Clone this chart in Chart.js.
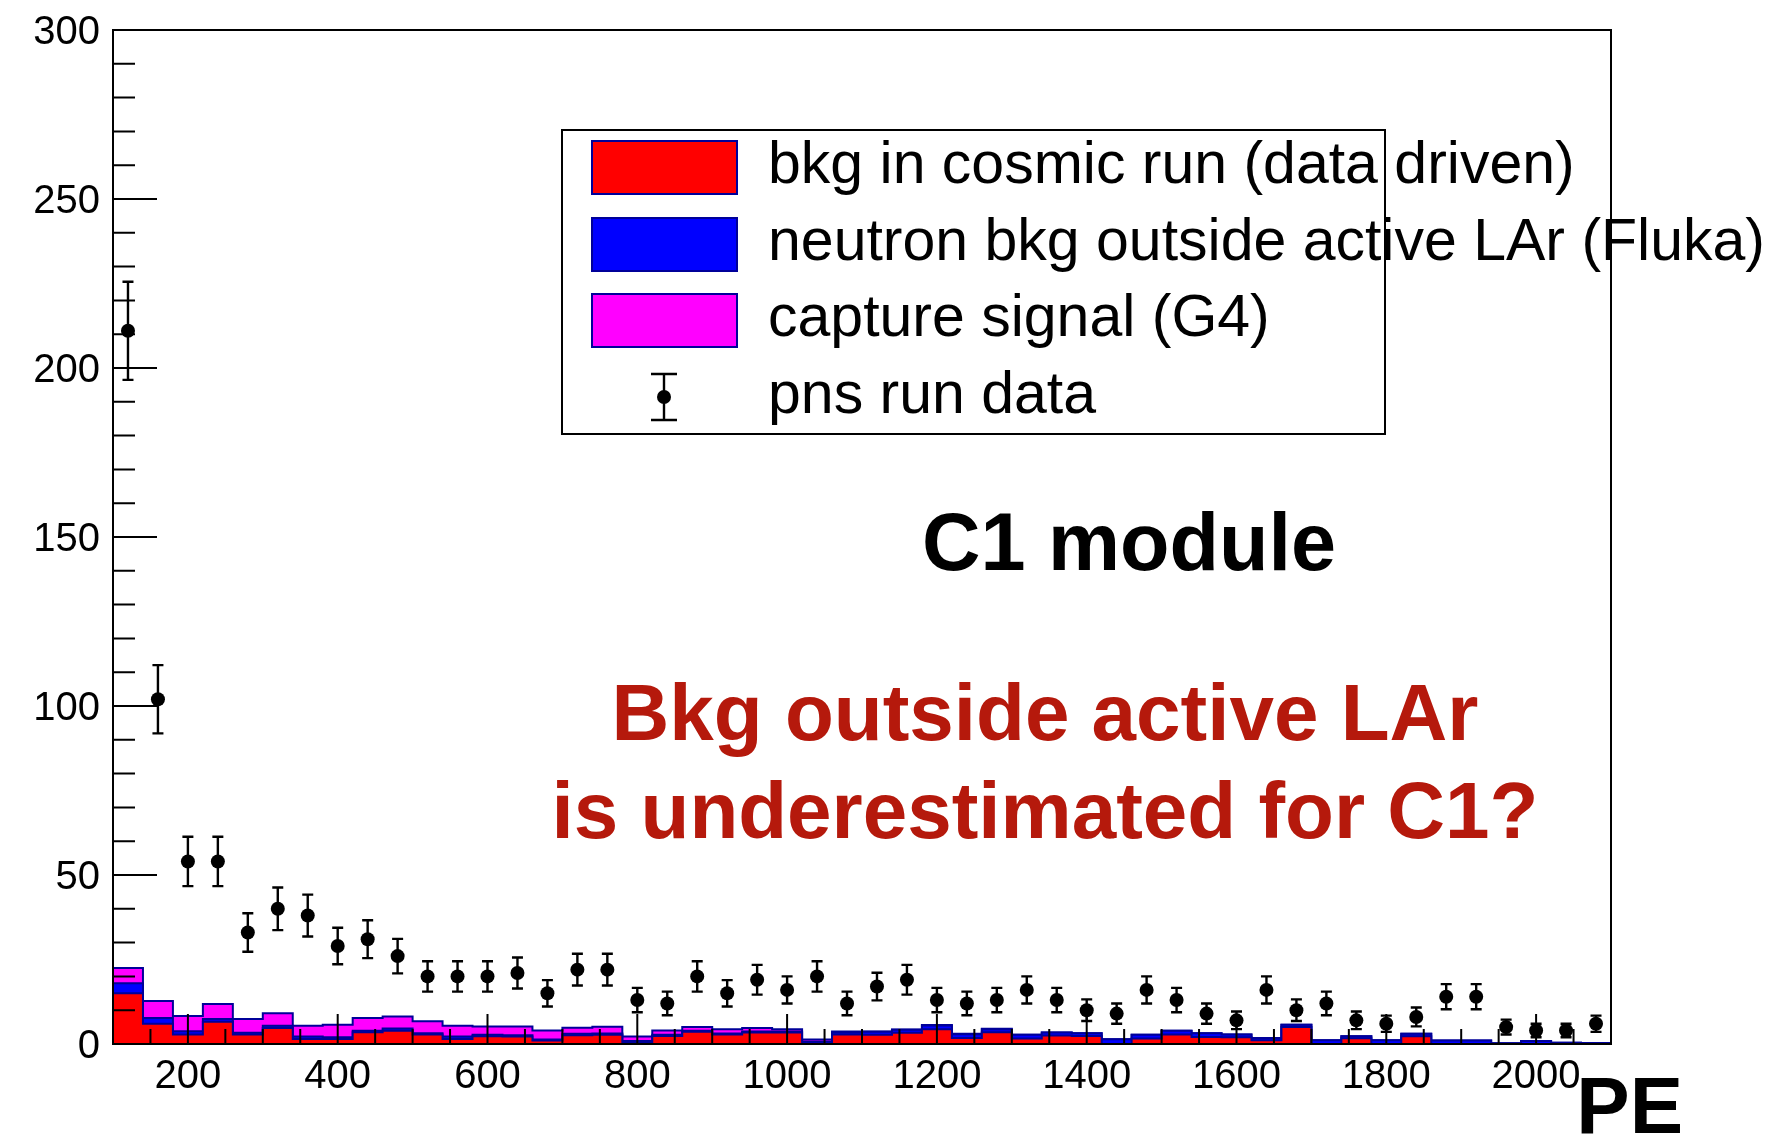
<!DOCTYPE html>
<html lang="en">
<head>
<meta charset="UTF-8">
<title>C1 module PE spectrum</title>
<script src="https://cdn.jsdelivr.net/npm/chart.js"></script>
<style>
    html, body { margin: 0; padding: 0; background: #fff; }
    #chart-container { width: 1772px; height: 1139px; }
</style>
</head>
<body>
<div id="chart-container"><canvas id="peChart" width="1772" height="1139"></canvas></div>
<script>
// 50 bins of 40 PE between 100 and 2100
const binEdges = Array.from({ length: 51 }, (_, i) => 100 + 40 * i);
const binCenters = binEdges.slice(0, 50).map(e => e + 20);

// pns run data (counts per bin) and their errors
const pnsCounts = [211, 102, 54, 54, 33, 40, 38, 29, 31, 26,
                   20, 20, 20, 21, 15, 22, 22, 13, 12, 20,
                   15, 19, 16, 20, 12, 17, 19, 13, 12, 13,
                   16, 13, 10, 9, 16, 13, 9, 7, 16, 10,
                   12, 7, 6, 8, 14, 14, 5, 4, 4, 6];
const pnsErrors = [14.5, 10.1, 7.3, 7.3, 5.7, 6.3, 6.2, 5.4, 5.6, 5.1,
                   4.5, 4.5, 4.5, 4.6, 3.9, 4.7, 4.7, 3.6, 3.5, 4.5,
                   3.9, 4.4, 4.0, 4.5, 3.5, 4.1, 4.4, 3.6, 3.5, 3.6,
                   4.0, 3.6, 3.2, 3.0, 4.0, 3.6, 3.0, 2.6, 4.0, 3.2,
                   3.5, 2.6, 2.4, 2.8, 3.7, 3.7, 2.2, 2.0, 2.0, 2.4];

// stacked components
const cosmicBkg = [15, 6, 2.8, 6.6, 2.8, 4.7, 1.5, 1.5, 3.5, 3.9,
                   2.8, 1.5, 2.3, 2.2, 1.0, 2.6, 2.7, 0.6, 2.4, 3.6,
                   2.8, 3.4, 3.4, 0.1, 2.8, 2.7, 3.3, 4.4, 1.8, 3.5,
                   1.6, 2.5, 2.4, 0, 1.6, 2.8, 2.1, 2.0, 1.1, 5.0,
                   0, 1.7, 0, 2.3, 0, 0, 0, 0, 0, 0];
const neutronBkg = [3, 1.7, 1, 0.8, 0.5, 0.7, 0.7, 0.5, 0.4, 0.7,
                    0.4, 0.7, 0.4, 0.4, 0.3, 0.4, 0.4, 0.3, 0.3, 0.3,
                    0.3, 0.3, 0.3, 0.6, 0.6, 0.9, 0.9, 1.1, 1.1, 0.9,
                    1.1, 0.9, 0.8, 1.4, 1.1, 1.1, 1.1, 0.8, 0.7, 0.7,
                    1.1, 0.6, 1.1, 0.7, 1.0, 1.0, 0.2, 0.9, 0.4, 0.3];
const captureSignal = [4.5, 5.0, 4.5, 4.4, 4.1, 3.7, 3.2, 3.7, 3.8, 3.5,
                       3.5, 3.2, 2.5, 2.6, 2.7, 1.8, 2.0, 1.3, 1.3, 1.1,
                       1.3, 1.0, 0.7, 0.6, 0.3, 0.1, 0.1, 0.1, 0.1, 0.1,
                       0, 0, 0, 0, 0, 0, 0, 0, 0, 0,
                       0, 0, 0, 0, 0, 0, 0, 0, 0, 0];

const xTickLabels = [200, 400, 600, 800, 1000, 1200, 1400, 1600, 1800, 2000];
const yTickLabels = [0, 50, 100, 150, 200, 250, 300];

const legendLabels = ['bkg in cosmic run (data driven)',
                      'neutron bkg outside active LAr (Fluka)',
                      'capture signal (G4)',
                      'pns run data'];

const FONT = 'Helvetica, "Liberation Sans", Arial, sans-serif';
const NAVY = '#000099';
const RED = '#ff0000', BLUE = '#0000ff', MAGENTA = '#ff00ff';

// cumulative tops of the stack
const topRed = cosmicBkg;
const topBlue = cosmicBkg.map((v, i) => v + neutronBkg[i]);
const topMagenta = topBlue.map((v, i) => v + captureSignal[i]);

// step outline: one point per left edge, plus the last right edge
function stepData(values) {
    return binEdges.map((e, i) => ({ x: e, y: values[Math.min(i, values.length - 1)] }));
}

function stackLayer(values, color, order) {
    return {
        data: stepData(values),
        stepped: 'before',
        fill: 'origin',
        backgroundColor: color,
        borderColor: NAVY,
        borderWidth: 2,
        pointRadius: 0,
        order: order
    };
}

// keep the plot frame where the padding puts it
function noOverhang(s) {
    s.paddingTop = 0;
    s.paddingBottom = 0;
    s.paddingLeft = 0;
    s.paddingRight = 0;
}

// ROOT-like frame, inward ticks, error bars, legend and labels
const rootStyle = {
    id: 'rootStyle',
    afterDatasetsDraw(chart) {
        const { ctx, chartArea: a, scales: { x, y } } = chart;
        ctx.save();
        ctx.strokeStyle = '#000';
        ctx.lineWidth = 2.4;

        ctx.beginPath();
        pnsCounts.forEach((n, i) => {
            const px = x.getPixelForValue(binCenters[i]);
            const hi = y.getPixelForValue(n + pnsErrors[i]);
            const lo = y.getPixelForValue(Math.max(0, n - pnsErrors[i]));
            ctx.moveTo(px, hi); ctx.lineTo(px, lo);
            ctx.moveTo(px - 5.5, hi); ctx.lineTo(px + 5.5, hi);
            ctx.moveTo(px - 5.5, lo); ctx.lineTo(px + 5.5, lo);
        });
        ctx.stroke();

        ctx.lineWidth = 2;
        ctx.beginPath();
        for (let v = 0; v <= 300; v += 10) {
            const py = y.getPixelForValue(v);
            const len = v % 50 === 0 ? 44 : 22;
            ctx.moveTo(a.left, py); ctx.lineTo(a.left + len, py);
        }
        for (let v = 100; v <= 2100; v += 50) {
            const px = x.getPixelForValue(v);
            const len = v % 200 === 0 ? 30 : 15;
            ctx.moveTo(px, a.bottom); ctx.lineTo(px, a.bottom - len);
        }
        ctx.stroke();
        ctx.strokeRect(a.left, a.top, a.right - a.left, a.bottom - a.top);
        ctx.restore();
    },
    afterDraw(chart) {
        const { ctx } = chart;
        ctx.save();

        // legend box
        ctx.fillStyle = '#fff';
        ctx.fillRect(562, 130, 823, 304);
        ctx.strokeStyle = '#000';
        ctx.lineWidth = 2;
        ctx.strokeRect(562, 130, 823, 304);

        const rowY = [167, 244, 320, 397];
        [RED, BLUE, MAGENTA].forEach((c, i) => {
            ctx.fillStyle = c;
            ctx.fillRect(592, rowY[i] - 26, 145, 53);
            ctx.strokeStyle = NAVY;
            ctx.strokeRect(592, rowY[i] - 26, 145, 53);
        });

        // data marker
        ctx.strokeStyle = '#000';
        ctx.lineWidth = 2.4;
        ctx.beginPath();
        ctx.moveTo(664, 374); ctx.lineTo(664, 420);
        ctx.moveTo(651, 374); ctx.lineTo(677, 374);
        ctx.moveTo(651, 420); ctx.lineTo(677, 420);
        ctx.stroke();
        ctx.fillStyle = '#000';
        ctx.beginPath();
        ctx.arc(664, 397, 7, 0, Math.PI * 2);
        ctx.fill();

        ctx.font = '59px ' + FONT;
        ctx.textBaseline = 'middle';
        ctx.textAlign = 'left';
        legendLabels.forEach((t, i) => ctx.fillText(t, 768, rowY[i]));

        // annotations
        ctx.textAlign = 'center';
        ctx.textBaseline = 'alphabetic';
        ctx.font = 'bold 81px ' + FONT;
        ctx.fillText('C1 module', 1129, 570);
        ctx.fillStyle = '#b5190c';
        ctx.font = 'bold 80px ' + FONT;
        ctx.fillText('Bkg outside active LAr', 1045, 740);
        ctx.fillText('is underestimated for C1?', 1045, 838);

        // axis title
        ctx.fillStyle = '#000';
        ctx.textAlign = 'right';
        ctx.font = 'bold 80px ' + FONT;
        ctx.fillText('PE', 1683, 1133);
        ctx.restore();
    }
};

const ctx = document.getElementById('peChart').getContext('2d');
const peChart = new Chart(ctx, {
    type: 'line',
    data: {
        datasets: [
            {
                data: pnsCounts.map((n, i) => ({ x: binCenters[i], y: n })),
                showLine: false,
                pointRadius: 7,
                pointBackgroundColor: '#000',
                pointBorderColor: '#000',
                pointBorderWidth: 0,
                order: 0
            },
            stackLayer(topRed, RED, 1),
            stackLayer(topBlue, BLUE, 2),
            stackLayer(topMagenta, MAGENTA, 3)
        ]
    },
    options: {
        responsive: false,
        animation: false,
        events: [],
        layout: { padding: { top: 30, right: 161, left: 0, bottom: 0 } },
        plugins: {
            legend: { display: false },
            tooltip: { enabled: false }
        },
        scales: {
            x: {
                type: 'linear',
                min: 100,
                max: 2100,
                afterBuildTicks: s => { s.ticks = xTickLabels.map(v => ({ value: v })); },
                afterFit: s => { s.height = 95; noOverhang(s); },
                grid: { display: false, drawTicks: false },
                border: { display: false },
                ticks: {
                    color: '#000',
                    font: { family: FONT, size: 40 },
                    padding: 9,
                    maxRotation: 0,
                    callback: v => String(v)
                }
            },
            y: {
                type: 'linear',
                min: 0,
                max: 300,
                afterBuildTicks: s => { s.ticks = yTickLabels.map(v => ({ value: v })); },
                afterFit: s => { s.width = 113; noOverhang(s); },
                grid: { display: false, drawTicks: false },
                border: { display: false },
                ticks: {
                    color: '#000',
                    font: { family: FONT, size: 40 },
                    padding: 13,
                    labelOffset: 3,
                    callback: v => String(v)
                }
            }
        }
    },
    plugins: [rootStyle]
});
</script>
</body>
</html>
